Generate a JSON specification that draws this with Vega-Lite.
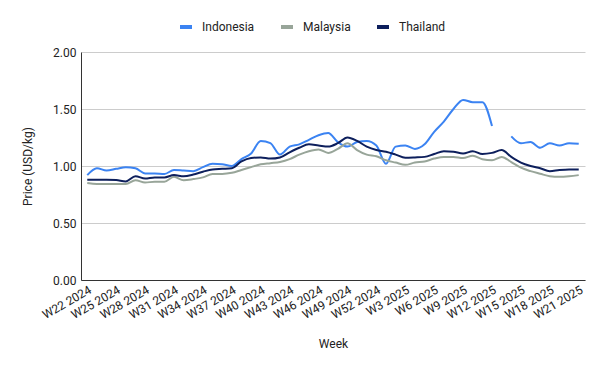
{
  "$schema": "https://vega.github.io/schema/vega-lite/v6.json",
  "width": 504,
  "height": 228,
  "autosize": {"type": "none"},
  "padding": {"left": 81, "top": 52, "right": 15, "bottom": 91},
  "background": "white",
  "config": {
    "view": {"stroke": null},
    "font": "Roboto",
    "axis": {"labelFont": "Roboto", "titleFont": "Roboto", "labelColor": "#222222", "titleColor": "#222222", "labelFontSize": 12, "titleFontSize": 12, "titleFontWeight": "normal"}
  },
  "data": {"values": [
    {"week": "W22 2024", "country": "Indonesia", "price": 0.92},
    {"week": "W23 2024", "country": "Indonesia", "price": 0.98},
    {"week": "W24 2024", "country": "Indonesia", "price": 0.96},
    {"week": "W25 2024", "country": "Indonesia", "price": 0.975},
    {"week": "W26 2024", "country": "Indonesia", "price": 0.99},
    {"week": "W27 2024", "country": "Indonesia", "price": 0.98},
    {"week": "W28 2024", "country": "Indonesia", "price": 0.935},
    {"week": "W29 2024", "country": "Indonesia", "price": 0.935},
    {"week": "W30 2024", "country": "Indonesia", "price": 0.93},
    {"week": "W31 2024", "country": "Indonesia", "price": 0.965},
    {"week": "W32 2024", "country": "Indonesia", "price": 0.96},
    {"week": "W33 2024", "country": "Indonesia", "price": 0.955},
    {"week": "W34 2024", "country": "Indonesia", "price": 0.99},
    {"week": "W35 2024", "country": "Indonesia", "price": 1.02},
    {"week": "W36 2024", "country": "Indonesia", "price": 1.015},
    {"week": "W37 2024", "country": "Indonesia", "price": 1.0},
    {"week": "W38 2024", "country": "Indonesia", "price": 1.06},
    {"week": "W39 2024", "country": "Indonesia", "price": 1.11},
    {"week": "W40 2024", "country": "Indonesia", "price": 1.22},
    {"week": "W41 2024", "country": "Indonesia", "price": 1.2},
    {"week": "W42 2024", "country": "Indonesia", "price": 1.1},
    {"week": "W43 2024", "country": "Indonesia", "price": 1.17},
    {"week": "W44 2024", "country": "Indonesia", "price": 1.19},
    {"week": "W45 2024", "country": "Indonesia", "price": 1.23},
    {"week": "W46 2024", "country": "Indonesia", "price": 1.27},
    {"week": "W47 2024", "country": "Indonesia", "price": 1.29},
    {"week": "W48 2024", "country": "Indonesia", "price": 1.21},
    {"week": "W49 2024", "country": "Indonesia", "price": 1.17},
    {"week": "W50 2024", "country": "Indonesia", "price": 1.21},
    {"week": "W51 2024", "country": "Indonesia", "price": 1.22},
    {"week": "W52 2024", "country": "Indonesia", "price": 1.18},
    {"week": "W1 2025", "country": "Indonesia", "price": 1.02},
    {"week": "W2 2025", "country": "Indonesia", "price": 1.17},
    {"week": "W3 2025", "country": "Indonesia", "price": 1.18},
    {"week": "W4 2025", "country": "Indonesia", "price": 1.15},
    {"week": "W5 2025", "country": "Indonesia", "price": 1.19},
    {"week": "W6 2025", "country": "Indonesia", "price": 1.3},
    {"week": "W7 2025", "country": "Indonesia", "price": 1.39},
    {"week": "W8 2025", "country": "Indonesia", "price": 1.5},
    {"week": "W9 2025", "country": "Indonesia", "price": 1.58},
    {"week": "W10 2025", "country": "Indonesia", "price": 1.56},
    {"week": "W11 2025", "country": "Indonesia", "price": 1.56},
    {"week": "W12 2025", "country": "Indonesia", "price": 1.35},
    {"week": "W13 2025", "country": "Indonesia", "price": null},
    {"week": "W14 2025", "country": "Indonesia", "price": 1.26},
    {"week": "W15 2025", "country": "Indonesia", "price": 1.2},
    {"week": "W16 2025", "country": "Indonesia", "price": 1.21},
    {"week": "W17 2025", "country": "Indonesia", "price": 1.16},
    {"week": "W18 2025", "country": "Indonesia", "price": 1.2},
    {"week": "W19 2025", "country": "Indonesia", "price": 1.18},
    {"week": "W20 2025", "country": "Indonesia", "price": 1.2},
    {"week": "W21 2025", "country": "Indonesia", "price": 1.195},
    {"week": "W22 2024", "country": "Malaysia", "price": 0.85},
    {"week": "W23 2024", "country": "Malaysia", "price": 0.842},
    {"week": "W24 2024", "country": "Malaysia", "price": 0.842},
    {"week": "W25 2024", "country": "Malaysia", "price": 0.842},
    {"week": "W26 2024", "country": "Malaysia", "price": 0.842},
    {"week": "W27 2024", "country": "Malaysia", "price": 0.875},
    {"week": "W28 2024", "country": "Malaysia", "price": 0.855},
    {"week": "W29 2024", "country": "Malaysia", "price": 0.862},
    {"week": "W30 2024", "country": "Malaysia", "price": 0.862},
    {"week": "W31 2024", "country": "Malaysia", "price": 0.905},
    {"week": "W32 2024", "country": "Malaysia", "price": 0.875},
    {"week": "W33 2024", "country": "Malaysia", "price": 0.885},
    {"week": "W34 2024", "country": "Malaysia", "price": 0.9},
    {"week": "W35 2024", "country": "Malaysia", "price": 0.93},
    {"week": "W36 2024", "country": "Malaysia", "price": 0.93},
    {"week": "W37 2024", "country": "Malaysia", "price": 0.94},
    {"week": "W38 2024", "country": "Malaysia", "price": 0.965},
    {"week": "W39 2024", "country": "Malaysia", "price": 0.99},
    {"week": "W40 2024", "country": "Malaysia", "price": 1.015},
    {"week": "W41 2024", "country": "Malaysia", "price": 1.025},
    {"week": "W42 2024", "country": "Malaysia", "price": 1.035},
    {"week": "W43 2024", "country": "Malaysia", "price": 1.06},
    {"week": "W44 2024", "country": "Malaysia", "price": 1.1},
    {"week": "W45 2024", "country": "Malaysia", "price": 1.13},
    {"week": "W46 2024", "country": "Malaysia", "price": 1.145},
    {"week": "W47 2024", "country": "Malaysia", "price": 1.115},
    {"week": "W48 2024", "country": "Malaysia", "price": 1.15},
    {"week": "W49 2024", "country": "Malaysia", "price": 1.2},
    {"week": "W50 2024", "country": "Malaysia", "price": 1.14},
    {"week": "W51 2024", "country": "Malaysia", "price": 1.1},
    {"week": "W52 2024", "country": "Malaysia", "price": 1.085},
    {"week": "W1 2025", "country": "Malaysia", "price": 1.05},
    {"week": "W2 2025", "country": "Malaysia", "price": 1.03},
    {"week": "W3 2025", "country": "Malaysia", "price": 1.01},
    {"week": "W4 2025", "country": "Malaysia", "price": 1.03},
    {"week": "W5 2025", "country": "Malaysia", "price": 1.04},
    {"week": "W6 2025", "country": "Malaysia", "price": 1.065},
    {"week": "W7 2025", "country": "Malaysia", "price": 1.08},
    {"week": "W8 2025", "country": "Malaysia", "price": 1.08},
    {"week": "W9 2025", "country": "Malaysia", "price": 1.07},
    {"week": "W10 2025", "country": "Malaysia", "price": 1.09},
    {"week": "W11 2025", "country": "Malaysia", "price": 1.06},
    {"week": "W12 2025", "country": "Malaysia", "price": 1.05},
    {"week": "W13 2025", "country": "Malaysia", "price": 1.08},
    {"week": "W14 2025", "country": "Malaysia", "price": 1.035},
    {"week": "W15 2025", "country": "Malaysia", "price": 0.985},
    {"week": "W16 2025", "country": "Malaysia", "price": 0.955},
    {"week": "W17 2025", "country": "Malaysia", "price": 0.932},
    {"week": "W18 2025", "country": "Malaysia", "price": 0.91},
    {"week": "W19 2025", "country": "Malaysia", "price": 0.905},
    {"week": "W20 2025", "country": "Malaysia", "price": 0.91},
    {"week": "W21 2025", "country": "Malaysia", "price": 0.92},
    {"week": "W22 2024", "country": "Thailand", "price": 0.88},
    {"week": "W23 2024", "country": "Thailand", "price": 0.88},
    {"week": "W24 2024", "country": "Thailand", "price": 0.88},
    {"week": "W25 2024", "country": "Thailand", "price": 0.877},
    {"week": "W26 2024", "country": "Thailand", "price": 0.865},
    {"week": "W27 2024", "country": "Thailand", "price": 0.91},
    {"week": "W28 2024", "country": "Thailand", "price": 0.89},
    {"week": "W29 2024", "country": "Thailand", "price": 0.9},
    {"week": "W30 2024", "country": "Thailand", "price": 0.9},
    {"week": "W31 2024", "country": "Thailand", "price": 0.92},
    {"week": "W32 2024", "country": "Thailand", "price": 0.91},
    {"week": "W33 2024", "country": "Thailand", "price": 0.925},
    {"week": "W34 2024", "country": "Thailand", "price": 0.95},
    {"week": "W35 2024", "country": "Thailand", "price": 0.97},
    {"week": "W36 2024", "country": "Thailand", "price": 0.975},
    {"week": "W37 2024", "country": "Thailand", "price": 0.98},
    {"week": "W38 2024", "country": "Thailand", "price": 1.04},
    {"week": "W39 2024", "country": "Thailand", "price": 1.07},
    {"week": "W40 2024", "country": "Thailand", "price": 1.075},
    {"week": "W41 2024", "country": "Thailand", "price": 1.065},
    {"week": "W42 2024", "country": "Thailand", "price": 1.075},
    {"week": "W43 2024", "country": "Thailand", "price": 1.12},
    {"week": "W44 2024", "country": "Thailand", "price": 1.16},
    {"week": "W45 2024", "country": "Thailand", "price": 1.19},
    {"week": "W46 2024", "country": "Thailand", "price": 1.18},
    {"week": "W47 2024", "country": "Thailand", "price": 1.17},
    {"week": "W48 2024", "country": "Thailand", "price": 1.2},
    {"week": "W49 2024", "country": "Thailand", "price": 1.25},
    {"week": "W50 2024", "country": "Thailand", "price": 1.22},
    {"week": "W51 2024", "country": "Thailand", "price": 1.17},
    {"week": "W52 2024", "country": "Thailand", "price": 1.14},
    {"week": "W1 2025", "country": "Thailand", "price": 1.125},
    {"week": "W2 2025", "country": "Thailand", "price": 1.1},
    {"week": "W3 2025", "country": "Thailand", "price": 1.072},
    {"week": "W4 2025", "country": "Thailand", "price": 1.075},
    {"week": "W5 2025", "country": "Thailand", "price": 1.08},
    {"week": "W6 2025", "country": "Thailand", "price": 1.105},
    {"week": "W7 2025", "country": "Thailand", "price": 1.13},
    {"week": "W8 2025", "country": "Thailand", "price": 1.125},
    {"week": "W9 2025", "country": "Thailand", "price": 1.11},
    {"week": "W10 2025", "country": "Thailand", "price": 1.13},
    {"week": "W11 2025", "country": "Thailand", "price": 1.105},
    {"week": "W12 2025", "country": "Thailand", "price": 1.115},
    {"week": "W13 2025", "country": "Thailand", "price": 1.14},
    {"week": "W14 2025", "country": "Thailand", "price": 1.08},
    {"week": "W15 2025", "country": "Thailand", "price": 1.03},
    {"week": "W16 2025", "country": "Thailand", "price": 1.0},
    {"week": "W17 2025", "country": "Thailand", "price": 0.98},
    {"week": "W18 2025", "country": "Thailand", "price": 0.955},
    {"week": "W19 2025", "country": "Thailand", "price": 0.965},
    {"week": "W20 2025", "country": "Thailand", "price": 0.97},
    {"week": "W21 2025", "country": "Thailand", "price": 0.97}
  ]},
  "mark": {"type": "line", "interpolate": "monotone", "strokeWidth": 2, "invalid": "break-paths-show-domains"},
  "encoding": {
    "x": {
      "field": "week",
      "type": "ordinal",
      "sort": null,
      "scale": {"type": "point", "padding": 0.65},
      "axis": {
        "values": ["W22 2024", "W25 2024", "W28 2024", "W31 2024", "W34 2024", "W37 2024", "W40 2024", "W43 2024", "W46 2024", "W49 2024", "W52 2024", "W3 2025", "W6 2025", "W9 2025", "W12 2025", "W15 2025", "W18 2025", "W21 2025"],
        "labelAngle": -30,
        "labelAlign": "right",
        "labelBaseline": "top",
        "labelPadding": 4,
        "ticks": false,
        "grid": false,
        "domain": true,
        "domainColor": "#333333",
        "domainWidth": 1,
        "title": "Week",
        "titlePadding": 18
      }
    },
    "y": {
      "field": "price",
      "type": "quantitative",
      "scale": {"domain": [0, 2]},
      "axis": {
        "values": [0, 0.5, 1, 1.5, 2],
        "format": ".2f",
        "ticks": false,
        "grid": true,
        "gridColor": "#cccccc",
        "domain": true,
        "domainColor": "#333333",
        "labelPadding": 5,
        "title": "Price (USD/kg)",
        "titlePadding": 18
      }
    },
    "color": {
      "field": "country",
      "type": "nominal",
      "scale": {"domain": ["Indonesia", "Malaysia", "Thailand"], "range": ["#3b83f2", "#98a599", "#0d1f5c"]},
      "legend": {
        "title": null,
        "orient": "none",
        "legendX": 97,
        "legendY": -33,
        "direction": "horizontal",
        "symbolType": "stroke",
        "symbolSize": 144,
        "symbolStrokeWidth": 4,
        "labelOffset": 8,
        "columnPadding": 18,
        "labelFontSize": 12,
        "labelFont": "Roboto",
        "labelColor": "#222222"
      }
    }
  }
}
